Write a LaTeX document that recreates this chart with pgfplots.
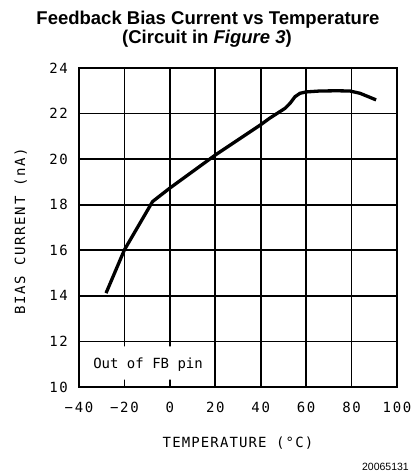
\documentclass[border=0pt]{standalone}
\usepackage{fontspec}
\setmainfont{Liberation Sans}
\usepackage{pgfplots}
\pgfplotsset{compat=1.18}
\newfontfamily\pf{DejaVu Sans Mono}[LetterSpace=12]
\newfontfamily\pfx{DejaVu Sans Mono}[LetterSpace=8]
\newfontfamily\pfn{DejaVu Sans Mono}
\pgfplotstableread{
x y
-28.1 14.12
-20 16.02
-7.6 18.14
0 18.73
20 20.18
40 21.51
44 21.80
50.7 22.23
52.9 22.45
55.1 22.74
57.3 22.89
60 22.95
66 22.99
73.5 23.00
79.3 22.99
83.7 22.89
87.4 22.74
90.8 22.60
}\biasdata
\begin{document}
\begin{tikzpicture}
\path (0,0) rectangle (412bp,476bp);
\node[anchor=base, inner sep=0pt, font=\bfseries\fontsize{18.5bp}{22bp}\selectfont] at (208bp,451bp) {Feedback Bias Current vs Temperature};
\node[anchor=base, inner sep=0pt, font=\bfseries\fontsize{18.5bp}{22bp}\selectfont] at (207bp,432bp) {(Circuit in \textit{Figure 3})};
\node[anchor=base east, inner sep=0pt, font=\fontsize{10.5bp}{12bp}\selectfont] at (409bp,6bp) {20065131};
\begin{axis}[
  at={(79bp,89bp)}, anchor=south west,
  width=318bp, height=319bp, scale only axis,
  xmin=-40, xmax=100, ymin=10, ymax=24,
  xtick={-40,-20,0,20,40,60,80,100}, ytick={10,12,14,16,18,20,22,24},
  xticklabels={−40,−20,0,20,40,60,80,100},
  yticklabels={10,12,14,16,18,20,22,24},
  grid=major,
  major grid style={black, line width=1.6bp},
  axis line style={black, line width=2bp},
  major tick length=7bp,
  every tick/.style={black, line width=1.6bp},
  tick align=inside,
  xtick pos=bottom, ytick pos=left,
  tick label style={font={\pf\fontsize{14bp}{16bp}\selectfont}, inner sep=0pt},
  xticklabel style={anchor=base, yshift=-26bp},
  yticklabel style={anchor=east, xshift=-11bp},
  xlabel={TEMPERATURE (°C)},
  ylabel={BIAS CURRENT (nA)},
  xlabel style={font={\pfx\fontsize{14bp}{16bp}\selectfont}, at={(axis description cs:0.5,0)}, anchor=base, yshift=-60bp, inner sep=0pt},
  ylabel style={font={\pf\fontsize{14bp}{16bp}\selectfont}, at={(axis description cs:-0.1698,0.489)}, anchor=base, inner sep=0pt},
]
\addplot[fill=white, draw=none, mark=none] coordinates {(-39.55,10.32) (18,10.32) (18,11.78) (-39.55,11.78) (-39.55,10.32)};
\node[anchor=base west, inner sep=0pt, font={\pfn\fontsize{14bp}{16bp}\selectfont}] at (axis cs:-33.8,10.8) {Out of FB pin};
\addplot[black, line width=3.3bp, line join=round, mark=none] table[x=x,y=y] {\biasdata};
\end{axis}
\end{tikzpicture}
\end{document}
